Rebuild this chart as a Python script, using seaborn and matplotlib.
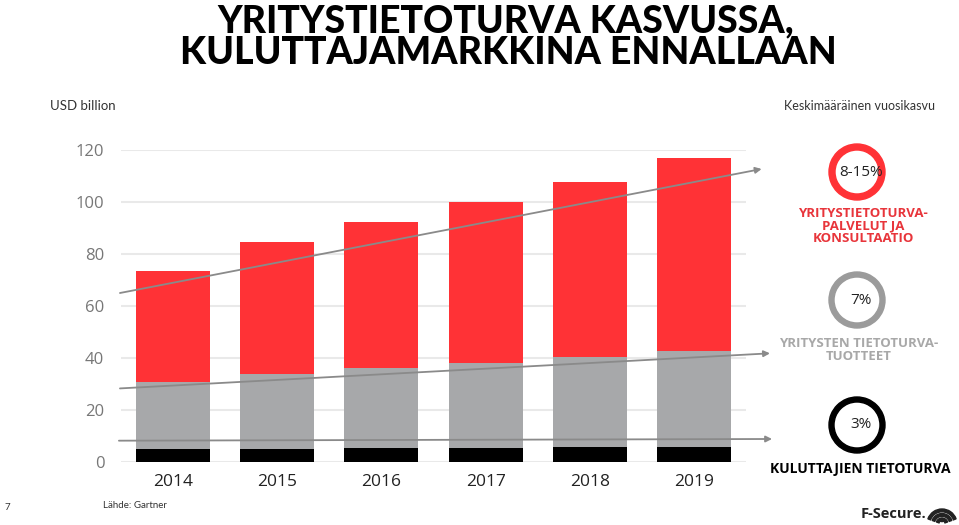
import matplotlib
matplotlib.use("Agg")
import matplotlib.pyplot as plt
import seaborn as sns
import numpy as np
import pandas as pd
from matplotlib.patches import Circle, Wedge

# ---- data (USD billion) ----
years = ["2014", "2015", "2016", "2017", "2018", "2019"]
consumer = [4.9, 5.0, 5.2, 5.4, 5.6, 5.8]          # Kuluttajien tietoturva
products = [25.9, 28.7, 31.0, 32.8, 34.7, 37.0]    # Yritysten tietoturvatuotteet
services = [42.5, 51.0, 56.1, 61.7, 67.5, 74.0]    # Palvelut ja konsultaatio
yticks = [0, 20, 40, 60, 80, 100, 120]
growth = ["8-15%", "7%", "3%"]
# trend arrows: (x0, y0, x1, y1) in data units
trend_red = (-0.51, 65.0, 5.65, 112.7)
trend_gray = (-0.51, 28.3, 5.73, 41.8)
trend_black = (-0.52, 8.2, 5.75, 8.85)

RED = "#ff3236"
GRAY = "#a7a8aa"
BLACK = "#000000"

sns.set_theme(style="white")
plt.rcParams["font.family"] = ["Lato", "DejaVu Sans"]

fig = plt.figure(figsize=(9.59, 5.25), dpi=100)
ax = fig.add_axes([121 / 959, 1 - 462 / 525, 625 / 959, 312 / 525])

df = pd.DataFrame({"year": years, "consumer": consumer,
                   "products": products, "services": services})
df["c1"] = df["consumer"]
df["c2"] = df["consumer"] + df["products"]
df["c3"] = df["c2"] + df["services"]

for col, colr in [("c3", RED), ("c2", GRAY), ("c1", BLACK)]:
    sns.barplot(data=df, x="year", y=col, color=colr, saturation=1,
                width=0.71, ax=ax, zorder=3, edgecolor=colr, linewidth=0)

ax.set_xlim(-0.5, 5.5)
ax.set_ylim(0, 120)
ax.set_yticks(yticks)
ax.set_xlabel("")
ax.set_ylabel("")
ax.grid(axis="y", color="#e9e9e9", linewidth=1.5, zorder=0)
ax.grid(axis="x", visible=False)
for s in ax.spines.values():
    s.set_visible(False)
ax.tick_params(axis="y", length=0, pad=12, labelsize=12, labelcolor="#777777")
ax.tick_params(axis="x", length=0, pad=9, labelsize=12.5, labelcolor="#222222")
for lab in ax.get_yticklabels() + ax.get_xticklabels():
    lab.set_fontfamily(["Open Sans", "DejaVu Sans"])

for (x0, y0, x1, y1) in [trend_red, trend_gray, trend_black]:
    ax.annotate("", xy=(x1, y1), xytext=(x0, y0), xycoords="data",
                arrowprops=dict(arrowstyle="-|>", color="#8a8a8a", lw=1.3,
                                mutation_scale=9, shrinkA=0, shrinkB=0),
                annotation_clip=False, zorder=5)

# ---- overlay in pixel coordinates ----
ov = fig.add_axes([0, 0, 1, 1])
ov.set_xlim(0, 959)
ov.set_ylim(525, 0)
ov.axis("off")
ov.patch.set_alpha(0)

ov.text(506, 32, "YRITYSTIETOTURVA KASVUSSA,", ha="center", va="baseline",
        fontsize=27, fontweight="black", color="black")
ov.text(508, 64, "KULUTTAJAMARKKINA ENNALLAAN", ha="center", va="baseline",
        fontsize=27, fontweight="black", color="black")

ov.text(50, 106, "USD billion", ha="left", va="center", fontsize=9.5, color="#333333")
ov.text(935, 106, "Keskimääräinen vuosikasvu", ha="right", va="center",
        fontsize=9, color="#333333")

cx = 857
rings = [(172, RED, 6), (300, "#9b9b9b", 5), (425, BLACK, 5)]
for (cy, colr, w), lab in zip(rings, growth):
    ov.add_patch(Wedge((cx, cy), 28, 0, 360, width=w, color=colr))
    ov.text(cx + 4, cy, lab, ha="center", va="center", fontsize=11,
            color="#222222", family=["Open Sans", "DejaVu Sans"])

bold = ["Open Sans", "DejaVu Sans"]
ov.text(863, 226, "YRITYSTIETOTURVA-\nPALVELUT JA\nKONSULTAATIO", ha="center",
        va="center", fontsize=9.5, fontweight="bold", color="#e8353b",
        linespacing=0.92, family=bold)
ov.text(859, 350, "YRITYSTEN TIETOTURVA-\nTUOTTEET", ha="center", va="center",
        fontsize=9.5, fontweight="bold", color="#a8a8a8", linespacing=0.92,
        family=bold)
ov.text(860, 469, "KULUTTAJIEN TIETOTURVA", ha="center", va="center",
        fontsize=10, fontweight="bold", color="black", family=bold)

ov.text(7, 507, "7", ha="center", va="center", fontsize=7, color="#333333")
ov.text(103, 505, "Lähde: Gartner", ha="left", va="center", fontsize=7,
        color="#333333")

ov.text(926, 514, "F-Secure.", ha="right", va="center", fontsize=10.5,
        fontweight="bold", color="#222222", family=bold)
# logo: stacked arcs
for i, r in enumerate([15, 10.5, 6]):
    ov.add_patch(Wedge((942, 524), r, 200, 340, width=2.8, color="#222222"))
ov.add_patch(Circle((942, 520), 1.6, color="#222222"))

fig.savefig("out.png", dpi=100)
